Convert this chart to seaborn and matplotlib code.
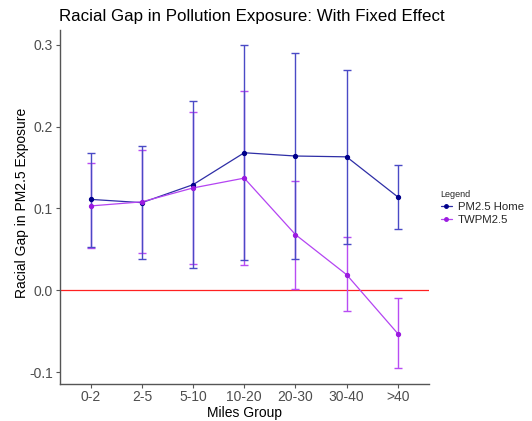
import matplotlib
matplotlib.use("Agg")
import matplotlib.pyplot as plt
from matplotlib.lines import Line2D
import numpy as np
import pandas as pd
import seaborn as sns

# Distance bands (miles) and estimated racial gap with 95% intervals
groups = ["0-2", "2-5", "5-10", "10-20", "20-30", "30-40", ">40"]

home_est = [0.111, 0.107, 0.129, 0.168, 0.164, 0.163, 0.114]
home_lo = [0.053, 0.038, 0.027, 0.037, 0.038, 0.057, 0.075]
home_hi = [0.168, 0.176, 0.231, 0.300, 0.290, 0.269, 0.153]

tw_est = [0.103, 0.108, 0.125, 0.137, 0.068, 0.019, -0.053]
tw_lo = [0.051, 0.046, 0.032, 0.031, 0.002, -0.026, -0.095]
tw_hi = [0.156, 0.171, 0.218, 0.243, 0.133, 0.065, -0.010]

series_names = ["PM2.5 Home", "TWPM2.5"]

df = pd.concat([
    pd.DataFrame({"group": groups, "est": home_est, "lo": home_lo, "hi": home_hi,
                  "series": series_names[0]}),
    pd.DataFrame({"group": groups, "est": tw_est, "lo": tw_lo, "hi": tw_hi,
                  "series": series_names[1]}),
], ignore_index=True)

line_col = {"PM2.5 Home": "#2E2EA6", "TWPM2.5": "#B444F2"}
err_col = {"PM2.5 Home": "#4A4AC6", "TWPM2.5": "#B84CF4"}
pt_col = {"PM2.5 Home": "#00008B", "TWPM2.5": "#9B1BE0"}
err_z = {"PM2.5 Home": 2.5, "TWPM2.5": 2.0}

sns.set_theme(style="white")
plt.rcParams["font.family"] = ["Liberation Sans", "DejaVu Sans"]

fig = plt.figure(figsize=(5.32, 4.21), dpi=100)
ax = fig.add_axes([60 / 532, 1 - 383.5 / 421, (428.5 - 60) / 532, (383.5 - 30) / 421])

ax.axhline(0, color="#FF2020", lw=0.9, zorder=1)

xpos = {g: i for i, g in enumerate(groups)}
for name in series_names:
    sub = df[df["series"] == name]
    xs = sub["group"].map(xpos).to_numpy()
    est = sub["est"].to_numpy()
    yerr = np.vstack([est - sub["lo"].to_numpy(), sub["hi"].to_numpy() - est])
    ax.errorbar(xs, est, yerr=yerr, fmt="none", ecolor=err_col[name],
                elinewidth=1.0, capsize=2.6, capthick=1.0, zorder=err_z[name])

sns.lineplot(data=df, x="group", y="est", hue="series", palette=line_col,
             sort=False, lw=0.9, ax=ax, legend=False, zorder=3)
for name in series_names:
    sub = df[df["series"] == name]
    ax.plot(sub["group"].map(xpos), sub["est"], ls="none", marker="o",
            ms=2.8, color=pt_col[name], zorder=4)

ax.set_xlim(-0.6, len(groups) - 0.4)
ax.set_ylim(-0.114, 0.318)
ax.set_xticks(range(len(groups)))
ax.set_xticklabels(groups)
ax.set_yticks([-0.1, 0.0, 0.1, 0.2, 0.3])
ax.set_yticklabels(["-0.1", "0.0", "0.1", "0.2", "0.3"])

for side in ["top", "right"]:
    ax.spines[side].set_visible(False)
for side in ["left", "bottom"]:
    ax.spines[side].set_color("#555555")
    ax.spines[side].set_linewidth(1.0)

ax.tick_params(axis="both", which="major", length=3, width=0.8, color="#555555",
               labelsize=10, labelcolor="#4D4D4D", pad=2, bottom=True, left=True)

ax.set_xlabel("Miles Group", fontsize=10, color="black", labelpad=1)
ax.set_ylabel("Racial Gap in PM2.5 Exposure", fontsize=10, color="black")
ax.yaxis.set_label_coords(-0.084, 0.51)
fig.text(59 / 532, 1 - 16 / 421, "Racial Gap in Pollution Exposure: With Fixed Effect",
         fontsize=12.15, color="black", va="center", ha="left")

handles = [Line2D([0], [0], color=line_col[n], lw=0.9, marker="o", ms=2.5,
                  markerfacecolor=pt_col[n], markeredgecolor=pt_col[n])
           for n in series_names]
leg = fig.legend(handles, series_names, title="Legend", loc="upper left",
                 bbox_to_anchor=(436 / 532, 1 - 185 / 421), frameon=False,
                 fontsize=8.2, title_fontsize=6.5, handlelength=1.0,
                 handletextpad=0.5, labelspacing=0.3, borderaxespad=0)
leg._legend_box.align = "left"

fig.savefig("out.png", dpi=100, facecolor="white")
